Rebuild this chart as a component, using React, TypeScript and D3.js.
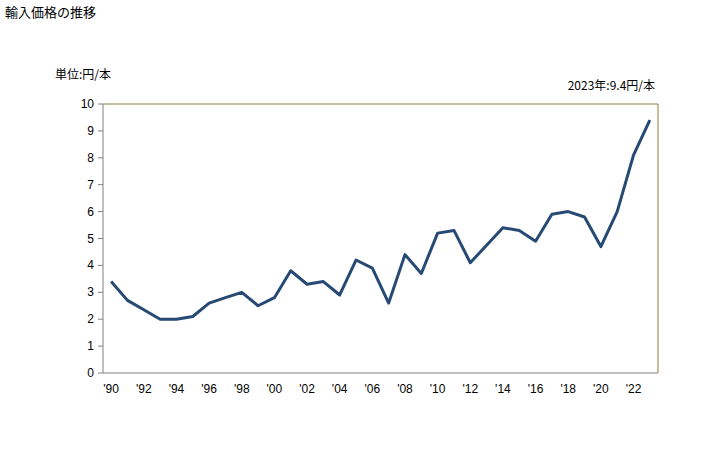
import React from "react";
import * as d3 from "d3";

const years = d3.range(1990, 2024);
const values = [3.4, 2.7, 2.35, 2.0, 2.0, 2.1, 2.6, 2.8, 3.0, 2.5, 2.8, 3.8, 3.3, 3.4, 2.9, 4.2, 3.9, 2.6, 4.4, 3.7, 5.2, 5.3, 4.1, 4.75, 5.4, 5.3, 4.9, 5.9, 6.0, 5.8, 4.7, 6.0, 8.1, 9.4];
const yTicks = [0, 1, 2, 3, 4, 5, 6, 7, 8, 9, 10];
const title = "輸入価格の推移";
const unitLabel = "単位:円/本";
const note = "2023年:9.4円/本";

export default function App() {
  const W = 728, H = 450;
  const L = 103, R = 658, T = 104, B = 373;
  const x = d3.scaleBand<number>().domain(years).range([L, R]);
  const y = d3.scaleLinear().domain([0, 10]).range([B, T]);
  const cx = (yr: number) => (x(yr) as number) + x.bandwidth() / 2;
  const line = d3.line<number>().x((_, i) => cx(years[i])).y((v) => y(v));
  const font = "'Liberation Sans', Arial, sans-serif";
  const jfont = "'Noto Sans CJK JP', sans-serif";
  return (
    <svg width={W} height={H} style={{ position: "absolute", left: 0, top: 0 }} fontFamily={font}>
      <rect width={W} height={H} fill="#fff" />
      <text x={5} y={17} fontSize={13} fontFamily={jfont} fill="#000">{title}</text>
      <text x={55} y={79} fontSize={12} fontFamily={jfont} fill="#000">{unitLabel}</text>
      <text x={655} y={90} fontSize={12} fontFamily={jfont} textAnchor="end" fill="#000">{note}</text>
      <line x1={L} y1={T} x2={R} y2={T} stroke="#8c7e3e" strokeWidth={1} />
      <line x1={R} y1={T} x2={R} y2={B} stroke="#8c7e3e" strokeWidth={1} />
      <line x1={L} y1={T} x2={L} y2={B} stroke="#808080" strokeWidth={1} />
      <line x1={L} y1={B} x2={R} y2={B} stroke="#808080" strokeWidth={1} />
      {yTicks.map((t) => (
        <g key={t}>
          <line x1={L - 5} x2={L} y1={y(t)} y2={y(t)} stroke="#808080" />
          <text x={L - 9} y={y(t) + 4} fontSize={12} textAnchor="end" fill="#000">{t}</text>
        </g>
      ))}
      {years.filter((yr) => yr % 2 === 0).map((yr) => (
        <text key={yr} x={cx(yr)} y={393} fontSize={12} textAnchor="middle" fill="#000">
          {"'" + String(yr).slice(2)}
        </text>
      ))}
      <path d={line(values) || ""} fill="none" stroke="#264a73" strokeWidth={3} strokeLinejoin="round" />
    </svg>
  );
}
